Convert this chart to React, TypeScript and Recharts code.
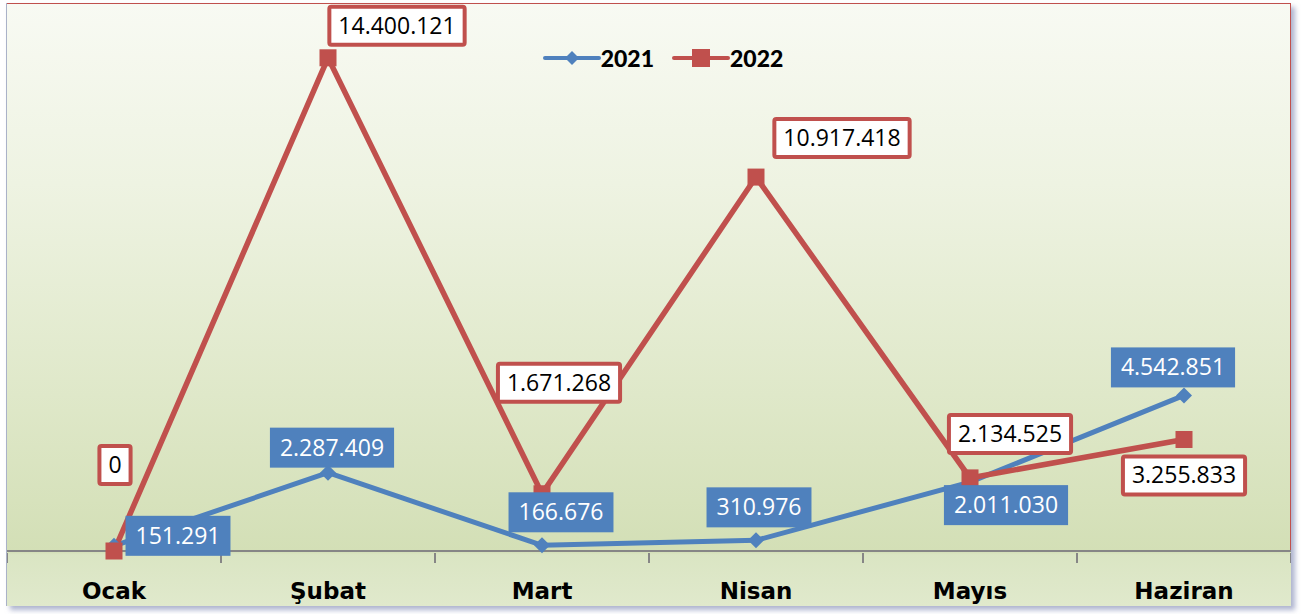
import { LineChart, Line, XAxis, YAxis, LabelList } from "recharts";

const months = ["Ocak", "Şubat", "Mart", "Nisan", "Mayıs", "Haziran"];
const values2021 = [151291, 2287409, 166676, 310976, 2011030, 4542851];
const values2022 = [0, 14400121, 1671268, 10917418, 2134525, 3255833];

const data = months.map((m, i) => ({ month: m, y2021: values2021[i], y2022: values2022[i] }));

const BLUE = "#4f81bd";
const RED = "#c0504d";
const CHART_W = 1284;
const CHART_H = 603;
const HALF_BAND = CHART_W / months.length / 2;

// label box centre, relative to the point
const offsets2021 = [
  [64, -10], [4, -25], [19, -33], [3, -33], [36, 23], [-11, -28],
];
const offsets2022 = [
  [1, -86], [69, -32], [17, -111], [86, -39], [40, -44], [0, 36],
];

const fmt = (v: number) => String(v).replace(/\B(?=(\d{3})+(?!\d))/g, ".");

const labelFont = "23px 'Open Sans'";
let ctx: CanvasRenderingContext2D | null = null;
const textWidth = (s: string) => {
  if (!ctx) ctx = document.createElement("canvas").getContext("2d");
  if (!ctx) return s.length * 12;
  ctx.font = labelFont;
  return ctx.measureText(s).width;
};

const BlueLabel = (props: any) => {
  const { x, y, value, index } = props;
  const [dx, dy] = offsets2021[index];
  const cx = x + dx;
  const cy = y + dy;
  const t = fmt(value);
  const w = textWidth(t) + 20;
  return (
    <g>
      <rect x={cx - w / 2} y={cy - 20} width={w} height={40} fill={BLUE} />
      <text x={cx} y={cy + 8} textAnchor="middle" fill="#fff" style={{ font: labelFont }}>
        {t}
      </text>
    </g>
  );
};

const RedLabel = (props: any) => {
  const { x, y, value, index } = props;
  const [dx, dy] = offsets2022[index];
  const cx = x + dx;
  const cy = y + dy;
  const t = fmt(value);
  const w = textWidth(t) + 18;
  return (
    <g>
      <rect x={cx - w / 2} y={cy - 19} width={w} height={38} fill="#fff" stroke={RED} strokeWidth={4} rx={2} />
      <text x={cx} y={cy + 8} textAnchor="middle" fill="#000" style={{ font: labelFont }}>
        {t}
      </text>
    </g>
  );
};

const Diamond = (props: any) => {
  const { cx, cy } = props;
  const r = 8;
  return <path d={`M${cx},${cy - r}L${cx + r},${cy}L${cx},${cy + r}L${cx - r},${cy}Z`} fill={BLUE} />;
};

const Square = (props: any) => {
  const { cx, cy } = props;
  return <rect x={cx - 8.5} y={cy - 8.5} width={17} height={17} fill={RED} />;
};

const MonthTick = (props: any) => {
  const { x, y, payload, index } = props;
  return (
    <g>
      {index === 0 && <line x1={x - HALF_BAND} x2={x - HALF_BAND} y1={y} y2={y + 10} stroke="#868686" strokeWidth={2} />}
      <line x1={x + HALF_BAND} x2={x + HALF_BAND} y1={y} y2={y + 10} stroke="#868686" strokeWidth={2} />
      <text
        x={x}
        y={y + 46}
        textAnchor="middle"
        fill="#000"
        style={{ font: "bold 23px 'DejaVu Sans'" }}
      >
        {payload.value}
      </text>
    </g>
  );
};

const LegendBox = () => (
  <div
    style={{
      position: "absolute",
      top: 42,
      left: 0,
      width: CHART_W,
      display: "flex",
      justifyContent: "center",
      paddingLeft: 28,
      boxSizing: "border-box",
      fontFamily: "Lato",
      fontWeight: 900,
      fontSize: 23,
      lineHeight: "26px",
    }}
  >
    <div style={{ display: "flex", alignItems: "center", marginRight: 18 }}>
      <svg width={58} height={20}>
        <line x1={2} x2={56} y1={10} y2={10} stroke={BLUE} strokeWidth={4} strokeLinecap="round" />
        <path d="M29,3L36,10L29,17L22,10Z" fill={BLUE} />
      </svg>
      <span>2021</span>
    </div>
    <div style={{ display: "flex", alignItems: "center" }}>
      <svg width={58} height={20}>
        <line x1={2} x2={56} y1={10} y2={10} stroke={RED} strokeWidth={4} strokeLinecap="round" />
        <rect x={20} y={1} width={18} height={18} fill={RED} />
      </svg>
      <span>2022</span>
    </div>
  </div>
);

export default function App() {
  return (
    <div style={{ position: "absolute", left: 0, top: 0, width: 1301, height: 614, background: "#fff" }}>
      <div
        style={{
          position: "absolute",
          left: 6,
          top: 3,
          width: CHART_W,
          height: CHART_H,
          background:
            "linear-gradient(to bottom, #f8faf3 0%, #eef3e2 30%, #dfe8c9 65%, #d3dfb6 91%, #dae5c3 91.5%, #e0e9cc 100%)",
          boxShadow: "4px 4px 5px rgba(120,130,175,0.6)",
          borderLeft: "1px solid #aab2c8",
        }}
      >
        <div
          style={{
            position: "absolute",
            left: 0,
            top: 0,
            width: CHART_W,
            height: 548,
            borderTop: `1.5px solid ${RED}`,
            borderRight: `1.5px solid ${RED}`,
            boxSizing: "border-box",
          }}
        />
        <LegendBox />
        <LineChart width={CHART_W} height={CHART_H} data={data} margin={{ top: 0, right: 0, bottom: 0, left: 0 }}>
          <XAxis
            dataKey="month"
            padding={{ left: HALF_BAND, right: HALF_BAND }}
            axisLine={{ stroke: "#868686", strokeWidth: 2 }}
            tickLine={false}
            tickSize={0}
            tick={<MonthTick />}
            interval={0}
            height={55}
          />
          <YAxis hide domain={[0, 16000000]} />
          <Line
            dataKey="y2021"
            stroke={BLUE}
            strokeWidth={5}
            dot={<Diamond />}
            activeDot={false}
            isAnimationActive={false}
          />
          <Line
            dataKey="y2022"
            stroke={RED}
            strokeWidth={5.5}
            dot={<Square />}
            activeDot={false}
            isAnimationActive={false}
          />
          <Line dataKey="y2021" stroke="none" dot={false} activeDot={false} isAnimationActive={false} legendType="none">
            <LabelList dataKey="y2021" content={<BlueLabel />} />
          </Line>
          <Line dataKey="y2022" stroke="none" dot={false} activeDot={false} isAnimationActive={false} legendType="none">
            <LabelList dataKey="y2022" content={<RedLabel />} />
          </Line>
        </LineChart>
      </div>
    </div>
  );
}
